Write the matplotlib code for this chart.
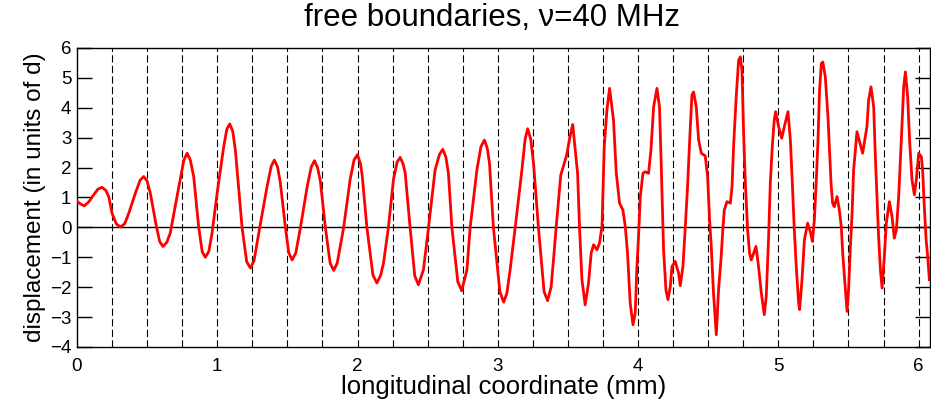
import numpy as np
import matplotlib
matplotlib.use("Agg")
import matplotlib.pyplot as plt

plt.rcParams["font.family"] = ["Liberation Sans", "DejaVu Sans"]

# displacement trace (x in mm, y in units of d)
x_mm = [
    0.000, 0.025, 0.052, 0.085, 0.119, 0.150, 0.178, 0.205, 0.226, 0.250,
    0.280, 0.309, 0.340, 0.369, 0.416, 0.450, 0.476, 0.500, 0.523, 0.566,
    0.590, 0.613, 0.640, 0.665, 0.713, 0.762, 0.785, 0.808, 0.832, 0.868,
    0.893, 0.915, 0.940, 0.963, 0.999, 1.046, 1.068, 1.089, 1.110, 1.129,
    1.177, 1.210, 1.236, 1.262, 1.296, 1.355, 1.385, 1.407, 1.430, 1.450,
    1.486, 1.510, 1.534, 1.560, 1.593, 1.641, 1.670, 1.693, 1.715, 1.735,
    1.771, 1.805, 1.830, 1.855, 1.901, 1.947, 1.975, 1.999, 2.020, 2.033,
    2.067, 2.110, 2.138, 2.165, 2.185, 2.220, 2.256, 2.282, 2.304, 2.325,
    2.340, 2.375, 2.408, 2.434, 2.470, 2.506, 2.553, 2.585, 2.608, 2.630,
    2.648, 2.673, 2.715, 2.743, 2.780, 2.803, 2.851, 2.880, 2.905, 2.925,
    2.941, 2.969, 3.015, 3.042, 3.065, 3.088, 3.124, 3.172, 3.195, 3.213,
    3.235, 3.255, 3.290, 3.330, 3.355, 3.380, 3.397, 3.416, 3.449, 3.490,
    3.513, 3.534, 3.569, 3.583, 3.600, 3.623, 3.647, 3.666, 3.683, 3.707,
    3.725, 3.743, 3.759, 3.778, 3.797, 3.825, 3.845, 3.868, 3.892, 3.909,
    3.925, 3.944, 3.964, 3.980, 3.992, 4.004, 4.016, 4.035, 4.051, 4.075,
    4.092, 4.111, 4.135, 4.153, 4.165, 4.182, 4.199, 4.213, 4.230, 4.242,
    4.265, 4.289, 4.301, 4.320, 4.337, 4.353, 4.367, 4.384, 4.396, 4.415,
    4.432, 4.451, 4.479, 4.496, 4.510, 4.522, 4.538, 4.558, 4.574, 4.591,
    4.606, 4.615, 4.634, 4.658, 4.670, 4.681, 4.700, 4.717, 4.729, 4.741,
    4.752, 4.764, 4.781, 4.795, 4.807, 4.824, 4.841, 4.859, 4.879, 4.900,
    4.914, 4.931, 4.943, 4.957, 4.971, 4.981, 5.002, 5.024, 5.043, 5.069,
    5.086, 5.100, 5.114, 5.128, 5.145, 5.152, 5.169, 5.186, 5.209, 5.228,
    5.243, 5.257, 5.271, 5.283, 5.294, 5.307, 5.317, 5.335, 5.354, 5.364,
    5.376, 5.387, 5.399, 5.419, 5.435, 5.449, 5.459, 5.473, 5.490, 5.501,
    5.514, 5.526, 5.537, 5.561, 5.580, 5.601, 5.620, 5.632, 5.644, 5.661,
    5.680, 5.692, 5.704, 5.715, 5.728, 5.740, 5.756, 5.770, 5.792, 5.811,
    5.827, 5.842, 5.858, 5.877, 5.894, 5.906, 5.922, 5.936, 5.953, 5.970,
    5.984, 6.001, 6.020, 6.029, 6.041, 6.054, 6.065, 6.077,
]
disp = [
    0.88, 0.78, 0.72, 0.86, 1.09, 1.28, 1.34, 1.24, 1.03, 0.47,
    0.12, 0.01, 0.12, 0.47, 1.14, 1.58, 1.70, 1.55, 1.14, 0.03,
    -0.48, -0.64, -0.50, -0.19, 1.03, 2.25, 2.48, 2.25, 1.70, -0.01,
    -0.82, -1.00, -0.80, -0.19, 1.14, 2.70, 3.28, 3.46, 3.22, 2.59,
    -0.01, -1.15, -1.36, -1.12, -0.19, 1.36, 2.05, 2.25, 2.02, 1.48,
    -0.01, -0.85, -1.09, -0.85, -0.01, 1.36, 2.02, 2.23, 2.00, 1.55,
    -0.01, -1.20, -1.44, -1.20, -0.01, 1.59, 2.25, 2.43, 2.15, 1.75,
    -0.01, -1.60, -1.86, -1.60, -1.20, -0.01, 1.59, 2.18, 2.34, 2.12,
    1.81, -0.01, -1.62, -1.92, -1.42, -0.01, 1.92, 2.45, 2.61, 2.35,
    1.81, -0.01, -1.82, -2.12, -1.42, -0.01, 1.92, 2.70, 2.92, 2.65,
    2.14, -0.01, -2.15, -2.50, -2.20, -1.42, -0.01, 1.92, 2.95, 3.30,
    2.95, 2.14, -0.01, -2.15, -2.45, -2.00, -1.10, -0.01, 1.75, 2.39,
    2.99, 3.44, 1.81, -0.03, -1.75, -2.59, -1.86, -0.86, -0.58, -0.75,
    -0.53, 0.03, 2.70, 3.92, 4.65, 3.59, 1.81, 0.81, 0.58, 0.03,
    -0.86, -2.53, -3.26, -2.86, -1.31, -0.25, 1.03, 1.81, 1.86, 1.81,
    2.59, 4.03, 4.65, 4.03, 2.14, -0.75, -2.09, -2.42, -1.98, -1.31,
    -1.14, -1.53, -1.95, -1.31, 0.03, 1.36, 2.81, 4.42, 4.53, 4.03,
    2.92, 2.48, 2.39, 1.70, 0.25, -0.64, -2.20, -3.59, -2.09, -1.09,
    0.03, 0.58, 0.86, 0.81, 1.36, 2.70, 4.37, 5.59, 5.70, 5.26,
    3.26, 1.59, -0.08, -0.86, -1.09, -0.86, -0.64, -1.31, -2.20, -2.92,
    -2.31, -0.31, 1.48, 2.70, 3.59, 3.87, 3.37, 2.98, 3.37, 3.87,
    2.92, 1.48, -0.08, -1.31, -2.53, -2.75, -1.75, -0.42, 0.14, -0.14,
    -0.47, 0.25, 1.59, 2.92, 4.59, 5.48, 5.53, 5.04, 3.70, 2.70,
    1.48, 0.81, 0.69, 1.03, 0.58, 0.03, -0.86, -1.75, -2.81, -2.09,
    -0.64, 0.47, 1.92, 3.20, 2.86, 2.48, 3.03, 3.37, 4.26, 4.70,
    4.03, 2.36, 0.92, -0.31, -1.42, -2.03, -0.97, 0.14, 0.86, 0.36,
    -0.36, -0.08, 1.03, 2.92, 4.70, 5.20, 4.37, 2.92, 1.59, 1.09,
    1.59, 2.48, 2.36, 1.92, 0.69, -0.42, -0.97, -1.75,
]

grid_x = np.arange(0.25, 6.01, 0.25)
x_ticks = [0, 1, 2, 3, 4, 5, 6]
y_ticks = [-4, -3, -2, -1, 0, 1, 2, 3, 4, 5, 6]

fig = plt.figure(figsize=(9.31, 4.03), dpi=100)
ax = fig.add_axes([0.0827, 0.139, 0.916, 0.742])

for gx in grid_x:
    ax.axvline(gx, color="black", lw=0.8, dashes=(6.5, 3), zorder=1)
ax.axhline(0, color="black", lw=1.0, zorder=1)

ax.plot(x_mm, disp, color="#ff0000", lw=2.0, zorder=3)

ax.set_xlim(0, 6.08)
ax.set_ylim(-4, 6)
ax.set_xticks(x_ticks)
ax.set_yticks(y_ticks)
ax.tick_params(axis="y", direction="in", length=11, width=1.0,
               right=True, labelsize=13.5, pad=4)
ax.tick_params(axis="x", length=0, labelsize=13.5, pad=8)
for s in ax.spines.values():
    s.set_linewidth(1.0)

ax.set_title("free boundaries, \u03bd=40 MHz", fontsize=22.5, pad=16, x=0.487)
ax.set_xlabel("longitudinal coordinate (mm)", fontsize=18.5, labelpad=0)
ax.set_ylabel("displacement (in units of d)", fontsize=17.5, labelpad=3)

fig.savefig("out.png", dpi=100)
